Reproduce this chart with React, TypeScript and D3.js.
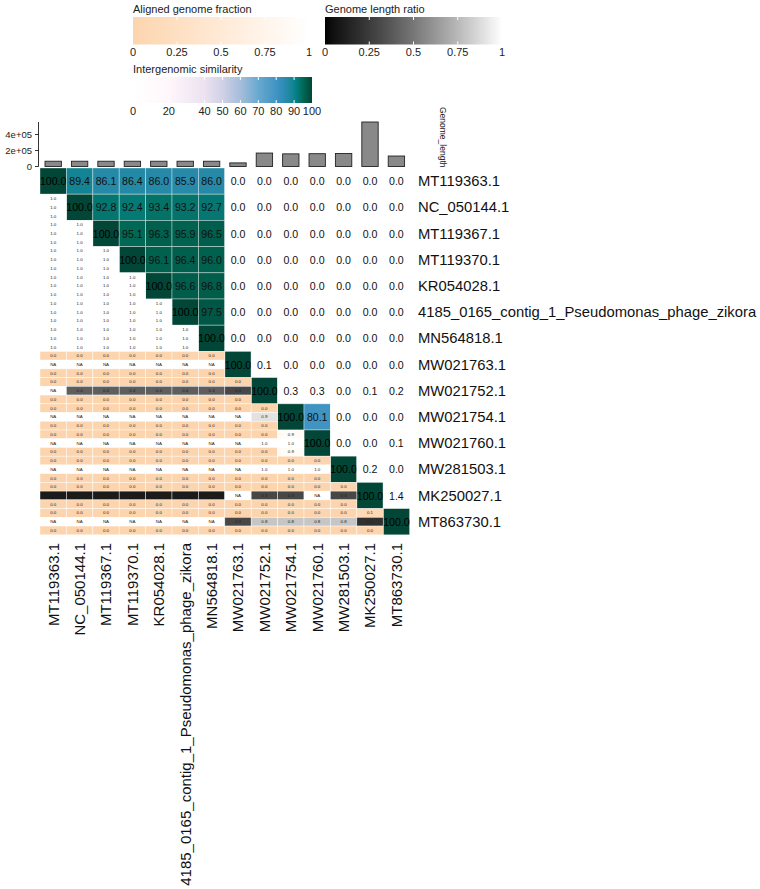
import React from "react";
import * as d3 from "d3";

const genomes = [
  "MT119363.1",
  "NC_050144.1",
  "MT119367.1",
  "MT119370.1",
  "KR054028.1",
  "4185_0165_contig_1_Pseudomonas_phage_zikora",
  "MN564818.1",
  "MW021763.1",
  "MW021752.1",
  "MW021754.1",
  "MW021760.1",
  "MW281503.1",
  "MK250027.1",
  "MT863730.1",
];

const genomeLength = [66000, 66000, 66000, 66000, 66000, 66000, 66000, 45000, 168000, 158000, 160000, 163000, 556000, 131000];
const barTickValues = [0, 200000, 400000];
const barTickLabels = ["0", "2e+05", "4e+05"];

// upper triangle: row i, columns i+1..13
const similarity: number[][] = [
  [89.4, 86.1, 86.4, 86.0, 85.9, 86.0, 0, 0, 0, 0, 0, 0, 0],
  [92.8, 92.4, 93.4, 93.2, 92.7, 0, 0, 0, 0, 0, 0, 0],
  [95.1, 96.3, 95.9, 96.5, 0, 0, 0, 0, 0, 0, 0],
  [96.1, 96.4, 96.0, 0, 0, 0, 0, 0, 0, 0],
  [96.6, 96.8, 0, 0, 0, 0, 0, 0, 0],
  [97.5, 0, 0, 0, 0, 0, 0, 0],
  [0, 0, 0, 0, 0, 0, 0],
  [0.1, 0, 0, 0, 0, 0],
  [0.3, 0.3, 0, 0.1, 0.2],
  [80.1, 0, 0, 0],
  [0, 0, 0.1],
  [0.2, 0],
  [1.4],
  [],
];
const diagonal = [100, 100, 100, 100, 100, 100, 100, 100, 100, 100, 100, 100, 100, 100];

// lower triangle: row i, columns 0..i-1
const alignedTop: (number | null)[][] = [
  [],
  [1],
  [1, 1],
  [1, 1, 1],
  [1, 1, 1, 1],
  [1, 1, 1, 1, 1],
  [1, 1, 1, 1, 1, 1],
  [0, 0, 0, 0, 0, 0, 0],
  [0, 0, 0, 0, 0, 0, 0, 0],
  [0, 0, 0, 0, 0, 0, 0, 0, 0],
  [0, 0, 0, 0, 0, 0, 0, 0, 0, 0.9],
  [0, 0, 0, 0, 0, 0, 0, 0, 0, 0, 0],
  [0, 0, 0, 0, 0, 0, 0, 0, 0, 0, 0, 0],
  [0, 0, 0, 0, 0, 0, 0, 0, 0, 0, 0, 0, 0.1],
];
const lengthRatio: (number | null)[][] = [
  [],
  [1],
  [1, 1],
  [1, 1, 1],
  [1, 1, 1, 1],
  [1, 1, 1, 1, 1],
  [1, 1, 1, 1, 1, 1],
  [null, null, null, null, null, null, null],
  [null, 0.4, 0.4, 0.4, 0.4, 0.4, 0.4, 0.3],
  [null, null, null, null, null, null, null, null, 0.9],
  [null, null, null, null, null, null, null, null, 1, 1],
  [null, null, null, null, null, null, null, null, 1, 1, 1],
  [0.1, 0.1, 0.1, 0.1, 0.1, 0.1, 0.1, null, 0.3, 0.3, null, 0.3],
  [null, null, null, null, null, null, null, 0.3, 0.8, 0.8, 0.8, 0.8, 0.2],
];
const alignedBottom: (number | null)[][] = [
  [],
  [1],
  [1, 1],
  [1, 1, 1],
  [1, 1, 1, 1],
  [1, 1, 1, 1, 1],
  [1, 1, 1, 1, 1, 1],
  [0, 0, 0, 0, 0, 0, 0],
  [0, 0, 0, 0, 0, 0, 0, 0],
  [0, 0, 0, 0, 0, 0, 0, 0, 0],
  [0, 0, 0, 0, 0, 0, 0, 0, 0, 0.9],
  [0, 0, 0, 0, 0, 0, 0, 0, 0, 0, 0],
  [0, 0, 0, 0, 0, 0, 0, 0, 0, 0, 0, 0],
  [0, 0, 0, 0, 0, 0, 0, 0, 0, 0, 0, 0, 0],
];

const simBreaks = [0, 20, 40, 50, 60, 70, 82, 91, 94.5, 100];
const simColors = ["#ffffff", "#fff7fb", "#ece2f0", "#d0d1e6", "#a6bddb", "#67a9cf", "#3690c0", "#02818a", "#016c59", "#014636"];
const simLegendTicks = [0, 20, 40, 50, 60, 70, 80, 90, 100];
const fracLegendTicks = [0, 0.25, 0.5, 0.75, 1];
const fracLegendLabels = ["0", "0.25", "0.5", "0.75", "1"];

const FONT = "'Liberation Sans', Arial, Helvetica, sans-serif";

const simColor = d3.scaleLinear<string>().domain(simBreaks).range(simColors).interpolate(d3.interpolateLab).clamp(true);
const fracColor = d3.scaleLinear<string>().domain([0, 1]).range(["#fcd5ae", "#ffffff"]).interpolate(d3.interpolateLab);
const ratioColor = d3.scaleLinear<string>().domain([0, 1]).range(["#000000", "#ffffff"]).interpolate(d3.interpolateLab);

const n = genomes.length;
const gridX0 = 40;
const gridY0 = 168;
const cellW = 26.4;
const cellH = 26.2;
const xScale = d3.scaleBand<number>().domain(d3.range(n)).range([gridX0, gridX0 + n * cellW]);
const yScale = d3.scaleBand<number>().domain(d3.range(n)).range([gridY0, gridY0 + n * cellH]);
const barY = d3.scaleLinear().domain([0, d3.max(genomeLength) as number]).range([166.5, 122]);

function fmt(v: number | null) {
  return v === null ? "NA" : v.toFixed(1);
}

function GradientLegend(props: {
  id: string;
  title: string;
  x: number;
  y: number;
  width: number;
  height: number;
  color: (v: number) => string;
  domain: [number, number];
  ticks: number[];
  labels: string[];
}) {
  const { id, title, x, y, width, height, color, domain, ticks, labels } = props;
  const s = d3.scaleLinear().domain(domain).range([x, x + width]);
  const stops = d3.range(0, 101).map((k) => {
    const v = domain[0] + ((domain[1] - domain[0]) * k) / 100;
    return { off: k, c: color(v) };
  });
  return (
    <g>
      <defs>
        <linearGradient id={id} x1="0" x2="1" y1="0" y2="0">
          {stops.map((st, k) => (
            <stop key={k} offset={`${st.off}%`} stopColor={st.c} />
          ))}
        </linearGradient>
      </defs>
      <text x={x} y={y - 4} fontSize={11} fontFamily={FONT} fill="#222">
        {title}
      </text>
      <rect x={x} y={y} width={width} height={height} fill={`url(#${id})`} />
      {ticks.map((t, k) =>
        k === 0 || k === ticks.length - 1 ? null : (
          <g key={k}>
            <line x1={s(t)} x2={s(t)} y1={y} y2={y + 3} stroke="white" strokeWidth={1} />
            <line x1={s(t)} x2={s(t)} y1={y + height - 3} y2={y + height} stroke="white" strokeWidth={1} />
          </g>
        )
      )}
      {ticks.map((t, k) => (
        <text key={k} x={s(t)} y={y + height + 11.5} fontSize={11} fontFamily={FONT} textAnchor="middle" fill="#222">
          {labels[k]}
        </text>
      ))}
    </g>
  );
}

export default function App() {
  const bw = xScale.bandwidth();
  const bh = yScale.bandwidth();
  const sub = bh / 3;
  const cells: React.ReactNode[] = [];

  for (let i = 0; i < n; i++) {
    const y = yScale(i) as number;
    {
      const x = xScale(i) as number;
      cells.push(
        <g key={`d${i}`}>
          <rect x={x} y={y} width={bw} height={bh} fill={simColor(diagonal[i])} stroke="rgba(255,255,255,0.45)" strokeWidth={0.8} />
          <text x={x + bw / 2} y={y + bh / 2} fontSize={10.6} fontFamily={FONT} textAnchor="middle" dominantBaseline="central" fill="#000">
            {diagonal[i].toFixed(1)}
          </text>
        </g>
      );
    }
    similarity[i].forEach((v, k) => {
      const j = i + 1 + k;
      const x = xScale(j) as number;
      cells.push(
        <g key={`u${i}-${j}`}>
          <rect x={x} y={y} width={bw} height={bh} fill={simColor(v)} stroke="rgba(255,255,255,0.45)" strokeWidth={0.8} />
          <text x={x + bw / 2} y={y + bh / 2} fontSize={10.6} fontFamily={FONT} textAnchor="middle" dominantBaseline="central" fill="#111">
            {fmt(v)}
          </text>
        </g>
      );
    });
    for (let j = 0; j < i; j++) {
      const x = xScale(j) as number;
      const vals = [alignedTop[i][j], lengthRatio[i][j], alignedBottom[i][j]];
      vals.forEach((v, s) => {
        const fill = v === null ? "#ffffff" : s === 1 ? ratioColor(v) : fracColor(v);
        cells.push(
          <g key={`l${i}-${j}-${s}`}>
            <rect x={x} y={y + s * sub} width={bw} height={sub} fill={fill} stroke="rgba(255,255,255,0.7)" strokeWidth={0.6} />
            <text x={x + bw / 2} y={y + s * sub + sub / 2} fontSize={4.4} fontFamily={FONT} textAnchor="middle" dominantBaseline="central" fill="#222">
              {fmt(v)}
            </text>
          </g>
        );
      });
    }
  }

  const barW = bw * 0.62;

  return (
    <svg width={760} height={889} style={{ position: "absolute", left: 0, top: 0 }} xmlns="http://www.w3.org/2000/svg">
      <rect x={0} y={0} width={760} height={889} fill="white" />
      <GradientLegend
        id="gFrac"
        title="Aligned genome fraction"
        x={133}
        y={17}
        width={176}
        height={27.5}
        color={(v) => fracColor(v)}
        domain={[0, 1]}
        ticks={fracLegendTicks}
        labels={fracLegendLabels}
      />
      <GradientLegend
        id="gRatio"
        title="Genome length ratio"
        x={325}
        y={17}
        width={177}
        height={27.5}
        color={(v) => ratioColor(v)}
        domain={[0, 1]}
        ticks={fracLegendTicks}
        labels={fracLegendLabels}
      />
      <GradientLegend
        id="gSim"
        title="Intergenomic similarity"
        x={133}
        y={77}
        width={179}
        height={26}
        color={(v) => simColor(v)}
        domain={[0, 100]}
        ticks={simLegendTicks}
        labels={simLegendTicks.map(String)}
      />

      <g>
        <line x1={38.5} x2={38.5} y1={barY(d3.max(genomeLength) as number)} y2={barY(0)} stroke="#000" strokeWidth={0.8} />
        {barTickValues.map((t, k) => (
          <g key={k}>
            <line x1={35} x2={38.5} y1={barY(t)} y2={barY(t)} stroke="#000" strokeWidth={0.8} />
            <text x={32} y={barY(t)} fontSize={9.5} fontFamily={FONT} textAnchor="end" dominantBaseline="central" fill="#222">
              {barTickLabels[k]}
            </text>
          </g>
        ))}
        {genomeLength.map((v, k) => {
          const cx = (xScale(k) as number) + bw / 2;
          return (
            <rect key={k} x={cx - barW / 2} y={barY(v)} width={barW} height={barY(0) - barY(v)} fill="#898989" stroke="#222" strokeWidth={0.9} />
          );
        })}
        <text transform={`translate(440, 107) rotate(90)`} fontSize={8.5} fontFamily={FONT} fill="#222">
          Genome_length
        </text>
      </g>

      {cells}

      {genomes.map((g, k) => (
        <text key={k} x={418} y={(yScale(k) as number) + bh / 2} fontSize={14.8} fontFamily={FONT} dominantBaseline="central" fill="#111">
          {g}
        </text>
      ))}
      {genomes.map((g, k) => {
        const cx = (xScale(k) as number) + bw / 2;
        return (
          <text key={k} transform={`translate(${cx + 5.3}, 543) rotate(-90)`} fontSize={15} fontFamily={FONT} textAnchor="end" fill="#111">
            {g}
          </text>
        );
      })}
    </svg>
  );
}
